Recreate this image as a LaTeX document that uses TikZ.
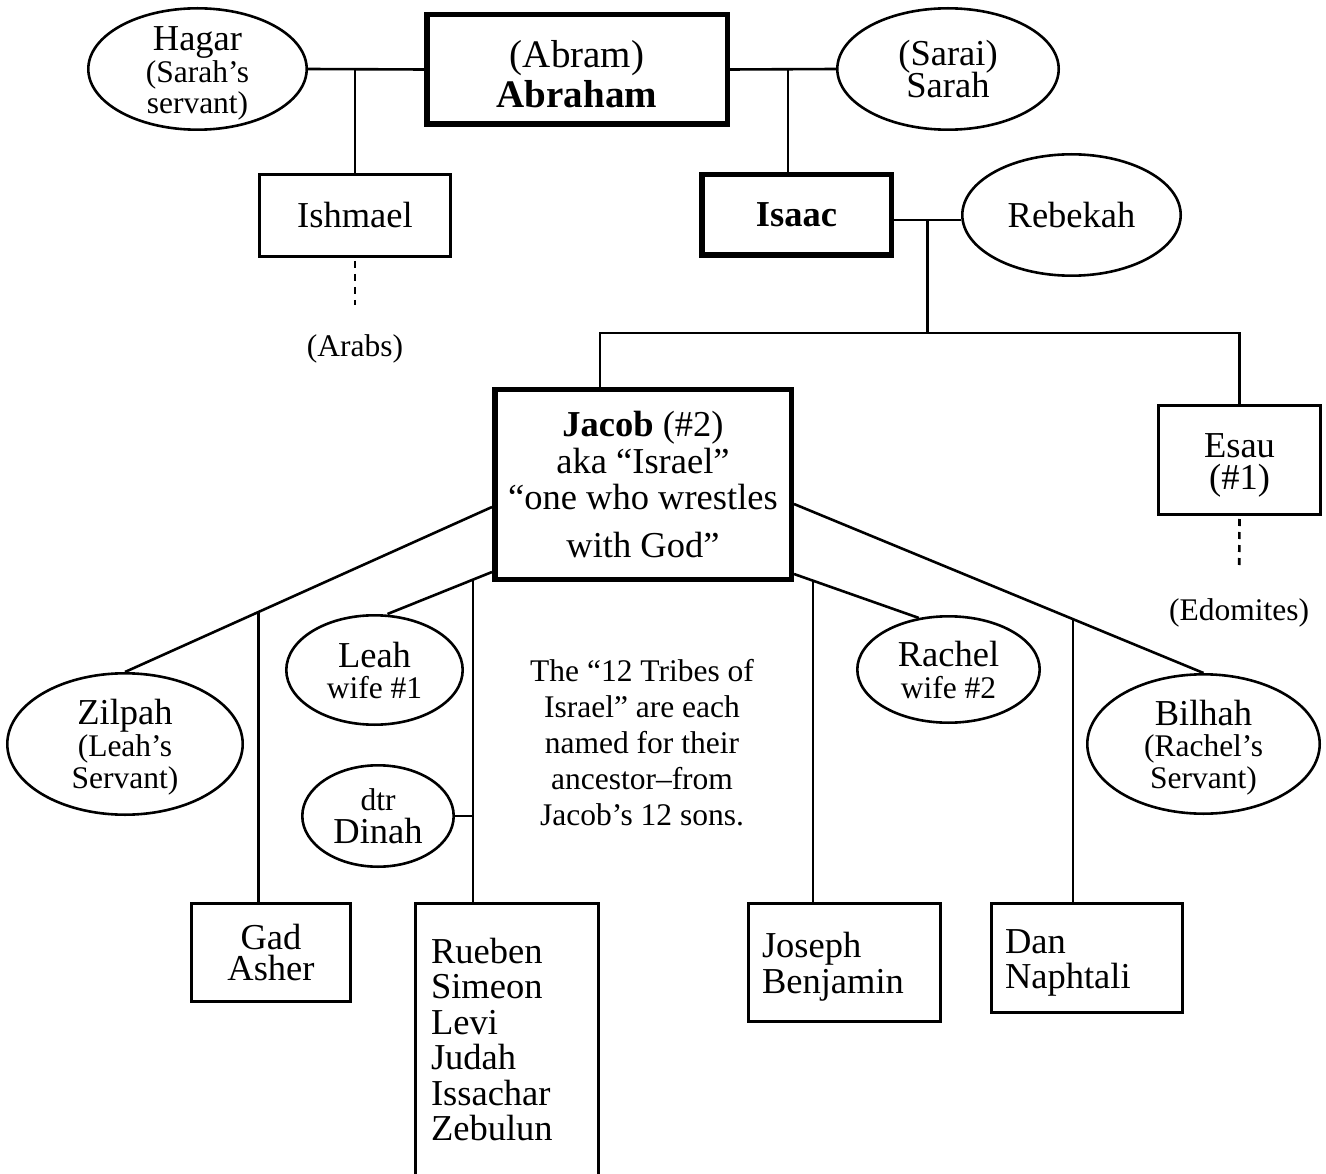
\documentclass[tikz,border=0pt]{standalone}
\usepackage{fontspec}
\setmainfont{Liberation Serif}
\usetikzlibrary{shapes.geometric}

\newcommand{\nametxt}{\fontsize{36.5}{32}\selectfont\lineskiplimit=-50pt\relax}
\newcommand{\listtxt}{\fontsize{36.5}{35.5}\selectfont\lineskiplimit=-50pt\relax}
\newcommand{\bignametxt}{\fontsize{39}{35}\selectfont\lineskiplimit=-50pt\relax}
\newcommand{\smalltxt}{\fontsize{31.5}{31.5}\selectfont\lineskiplimit=-50pt\relax}
\newcommand{\notetxt}{\fontsize{31.5}{36}\selectfont\lineskiplimit=-50pt\relax}

\begin{document}
\begin{tikzpicture}[x=1pt,y=-1pt,
    link/.style={line width=2.6pt},
    descent/.style={link,dash pattern=on 7pt off 6pt,shorten <=3pt},
    person/.style={draw,rectangle,line width=2.6pt,inner sep=0pt,align=center,font=\nametxt},
    heir/.style={person,line width=5.5pt},
    spouse/.style={draw,ellipse,line width=2.6pt,inner sep=-12pt,align=center,font=\nametxt},
    sons/.style={draw,rectangle,line width=2.6pt,inner xsep=13.7pt,align=left,font=\listtxt},
    people/.style={inner sep=0pt,font=\smalltxt}]
    \useasboundingbox (0,0) rectangle (1326,1174);

    % first generations
    \node[heir,font=\bignametxt,minimum width=300.5pt,minimum height=109.5pt] (abraham) at (577,69.5) {\rule{0pt}{37pt}(Abram)\\[5pt]\textbf{Abraham}};
    \node[spouse,minimum width=218.4pt,minimum height=121.4pt] (hagar) at (197.5,69) {\rule{0pt}{32pt}Hagar\\{\smalltxt(Sarah’s}\\[-1pt]{\smalltxt servant)}};
    \node[spouse,minimum width=221.4pt,minimum height=121.4pt] (sarah) at (948,69) {(Sarai)\\Sarah};
    \node[person,minimum width=191.4pt,minimum height=82.4pt] (ishmael) at (355,215.5) {Ishmael};
    \node[heir,minimum width=189.5pt,minimum height=80.5pt] (isaac) at (796.5,215) {\textbf{Isaac}};
    \node[spouse,minimum width=218.4pt,minimum height=121.4pt] (rebekah) at (1071.5,215) {Rebekah};
    \node[people] (arabs) at (355,348.5) {(Arabs)};

    \node[heir,font=\listtxt,minimum width=296.5pt,minimum height=189.5pt] (jacob) at (643,484.5) {\textbf{Jacob} (\#2)\\[1.5pt]aka “Israel”\\“one who wrestles\\[12.5pt]with God”};
    \node[person,minimum width=162.4pt,minimum height=109.4pt] (esau) at (1239.5,460) {\rule{0pt}{34pt}Esau\\(\#1)};
    \node[people] (edomites) at (1239,612.5) {(Edomites)};

    % wives of Jacob
    \node[spouse,minimum width=235.4pt,minimum height=141.4pt] (zilpah) at (125,744) {\rule{0pt}{32pt}Zilpah\\{\smalltxt(Leah’s}\\{\smalltxt Servant)}};
    \node[spouse,minimum width=176.4pt,minimum height=109.4pt] (leah) at (374.5,670) {Leah\\[-1pt]{\smalltxt wife \#1}};
    \node[spouse,minimum width=151.4pt,minimum height=101.4pt] (dinah) at (378,816) {{\smalltxt dtr}\\[1pt]Dinah};
    \node[spouse,minimum width=182.4pt,minimum height=106.4pt] (rachel) at (948.5,669.5) {Rachel\\{\smalltxt wife \#2}};
    \node[spouse,minimum width=232.4pt,minimum height=139.4pt] (bilhah) at (1203.5,744) {\rule{0pt}{32pt}Bilhah\\[-1pt]{\smalltxt(Rachel’s}\\{\smalltxt Servant)}};
    \node[font=\notetxt,align=center,inner sep=0pt] (note) at (642,743) {The “12 Tribes of\\Israel” are each\\named for their\\ancestor–from\\Jacob’s 12 sons.};

    % the sons
    \node[person,minimum width=159.4pt,minimum height=98.4pt] (gad) at (271,952.5) {Gad\\[-1pt]Asher};
    \node[sons,anchor=north,inner xsep=15.7pt,inner ysep=34.8pt,text width=152pt,text depth=250pt] (rueben) at (507,902) {Rueben\\Simeon\\Levi\\Judah\\Issachar\\Zebulun};
    \node[sons,text width=165pt,minimum height=118.4pt] (joseph) at (844.5,962.5) {\rule{0pt}{34pt}Joseph\\Benjamin};
    \node[sons,text width=164pt,minimum height=109.4pt] (dan) at (1087,958) {\rule{0pt}{34pt}Dan\\Naphtali};

    \draw[link] (hagar.east) -- (abraham.west);
    \draw[link] (ishmael.north) -- (ishmael.north |- hagar.east);
    \draw[link] (abraham.east) -- coordinate[pos=0.547] (abraham sarah) (sarah.west);
    \draw[link] (abraham sarah) -- (abraham sarah |- isaac.north);
    \draw[descent,shorten >=29pt] (ishmael.south) -- (arabs.north);

    \draw[link] ([yshift=-5pt]isaac.east) -- coordinate (isaac rebekah) ([yshift=-5pt]rebekah.west);
    \coordinate (bar) at (isaac rebekah |- 0,333);
    \draw[link] (isaac rebekah) -- (bar);
    \draw[link] ([xshift=-43pt]jacob.north) |- (bar) -| (esau.north);
    \draw[descent,shorten >=28pt] (esau.south) -- (edomites.north);

    \draw[link] ([yshift=-22.5pt]jacob.west) -- coordinate[pos=0.637] (zilpah gad) (zilpah.north);
    \draw[link] (zilpah gad) -- (zilpah gad |- gad.north);
    \draw[link] ([yshift=-87.5pt]jacob.west) -- coordinate[pos=0.182] (leah rueben) ([xshift=13pt]leah.north);
    \draw[link] (leah rueben) -- (leah rueben |- rueben.north);
    \draw[link] (dinah.east) -- (dinah.east -| leah rueben);

    \draw[link] ([yshift=-89.5pt]jacob.east) -- coordinate[pos=0.152] (rachel joseph) (rachel.120);
    \draw[link] (rachel joseph) -- (rachel joseph |- joseph.north);
    \draw[link] ([yshift=-19.5pt]jacob.east) -- coordinate[pos=0.681] (bilhah dan) (bilhah.north);
    \draw[link] (bilhah dan) -- (bilhah dan |- dan.north);
\end{tikzpicture}
\end{document}
